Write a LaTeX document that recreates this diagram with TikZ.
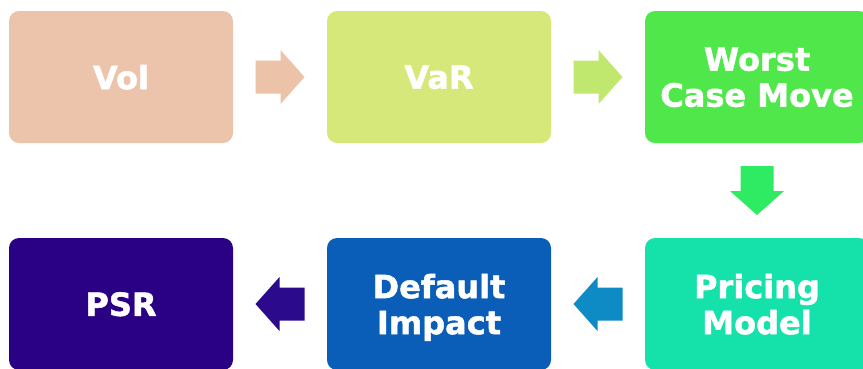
\documentclass[tikz,border=0pt]{standalone}
\usepackage{fontspec}
\setmainfont{DejaVu Sans}[BoldFeatures={FakeBold=1.5}]
\usetikzlibrary{calc}
\definecolor{volc}{HTML}{ECC4AC}
\definecolor{volarr}{HTML}{ECC2A8}
\definecolor{varc}{HTML}{D7E87A}
\definecolor{vararr}{HTML}{C1E86E}
\definecolor{wcmc}{HTML}{4FE74A}
\definecolor{wcmarr}{HTML}{2FEA63}
\definecolor{pmc}{HTML}{14E2AA}
\definecolor{pmarr}{HTML}{0E8AC4}
\definecolor{dic}{HTML}{0A5EB8}
\definecolor{diarr}{HTML}{2B0A8C}
\definecolor{psrc}{HTML}{2A0084}
\tikzset{
  stagebox/.style={rounded corners=10pt, minimum width=224pt, minimum height=132pt,
    inner sep=0pt, text=white, align=center, text depth=0pt,
    font=\bfseries\fontsize{32}{36}\selectfont},
  blockarrow/.pic={\fill[pic actions] (-24.5,-16.5) -- (0.5,-16.5) -- (0.5,-27) -- (24.5,0)
    -- (0.5,27) -- (0.5,16.5) -- (-24.5,16.5) -- cycle;}
}
\begin{document}
\begin{tikzpicture}[x=1pt,y=-1pt]
\useasboundingbox (0,0) rectangle (863,368);
\clip (0,0) rectangle (863,368);
\node[stagebox, fill=volc] (vol) at (121,77) {Vol};
\node[stagebox, fill=varc] (var) at (439,77) {VaR};
\node[stagebox, fill=wcmc] (wcm) at (757,77) {Worst\\Case Move};
\node[stagebox, fill=pmc] (pm) at (757,304) {Pricing\\Model};
\node[stagebox, fill=dic] (di) at (439,304) {Default\\Impact};
\node[stagebox, fill=psrc] (psr) at (121,304) {PSR};
\pic[fill=volarr] at ($(vol.east)!0.5!(var.west)$) {blockarrow};
\pic[fill=vararr] at ($(var.east)!0.5!(wcm.west)$) {blockarrow};
\pic[fill=wcmarr, rotate=-90] at ($(wcm.south)!0.5!(pm.north)$) {blockarrow};
\pic[fill=pmarr, rotate=180] at ($(pm.west)!0.5!(di.east)$) {blockarrow};
\pic[fill=diarr, rotate=180] at ($(di.west)!0.5!(psr.east)$) {blockarrow};
\end{tikzpicture}
\end{document}
